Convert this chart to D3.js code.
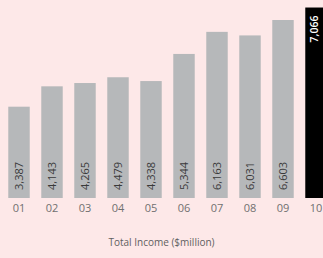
<!DOCTYPE html>
<html>
<head>
<meta charset="utf-8">
<script src="https://cdn.jsdelivr.net/npm/d3@7"></script>
<style>
  html, body { margin: 0; padding: 0; background: #fde8e8; }
  svg { display: block; font-family: 'Open Sans', sans-serif; }
</style>
</head>
<body>
<div id="chart"></div>
<script>
const years = ['01', '02', '03', '04', '05', '06', '07', '08', '09', '10'];
const income = [3387, 4143, 4265, 4479, 4338, 5344, 6163, 6031, 6603, 7066];
const labels = ['3,387', '4,143', '4,265', '4,479', '4,338', '5,344', '6,163', '6,031', '6,603', '7,066'];
const title = 'Total Income ($million)';

const width = 323;
const height = 258;
const baseline = 198;

const svg = d3.select('#chart').append('svg')
  .attr('width', width)
  .attr('height', height);

svg.append('rect')
  .attr('width', width)
  .attr('height', height)
  .attr('fill', '#fde8e8');

const x = d3.scaleBand()
  .domain(years)
  .range([2.5, 332.5])
  .paddingInner(0.35)
  .paddingOuter(0.175);

const y = d3.scaleLinear()
  .domain([0, 7345])
  .range([baseline, 0]);

const last = years.length - 1;
const mid = d => x(d) + x.bandwidth() / 2;

svg.selectAll('.bar')
  .data(income)
  .enter().append('rect')
    .attr('class', 'bar')
    .attr('x', (d, i) => x(years[i]))
    .attr('y', d => y(d))
    .attr('width', x.bandwidth())
    .attr('height', d => baseline - y(d))
    .attr('fill', (d, i) => i === last ? '#000000' : '#b6b8ba');

// value labels, rotated, at the foot of the grey bars
svg.selectAll('.val')
  .data(income.slice(0, last))
  .enter().append('text')
    .attr('class', 'val')
    .attr('transform', (d, i) => `translate(${mid(years[i])}, 190) rotate(-90)`)
    .attr('dy', '0.35em')
    .attr('font-size', 11)
    .attr('fill', '#3a3a3a')
    .text((d, i) => labels[i]);

// latest year: label at the top of the black bar
svg.append('text')
  .attr('transform', `translate(${mid(years[last]) - 2}, ${y(income[last]) + 8}) rotate(-90)`)
  .attr('dy', '0.35em')
  .attr('text-anchor', 'end')
  .attr('font-size', 10.5)
  .attr('font-weight', 600)
  .attr('fill', '#ffffff')
  .text(labels[last]);

svg.selectAll('.year')
  .data(years)
  .enter().append('text')
    .attr('class', 'year')
    .attr('x', d => mid(d))
    .attr('y', 211.5)
    .attr('text-anchor', 'middle')
    .attr('font-size', 11)
    .attr('fill', '#707070')
    .text(d => d);

svg.append('text')
  .attr('x', 161.5)
  .attr('y', 246)
  .attr('text-anchor', 'middle')
  .attr('font-size', 10)
  .attr('fill', '#606060')
  .text(title);
</script>
</body>
</html>
